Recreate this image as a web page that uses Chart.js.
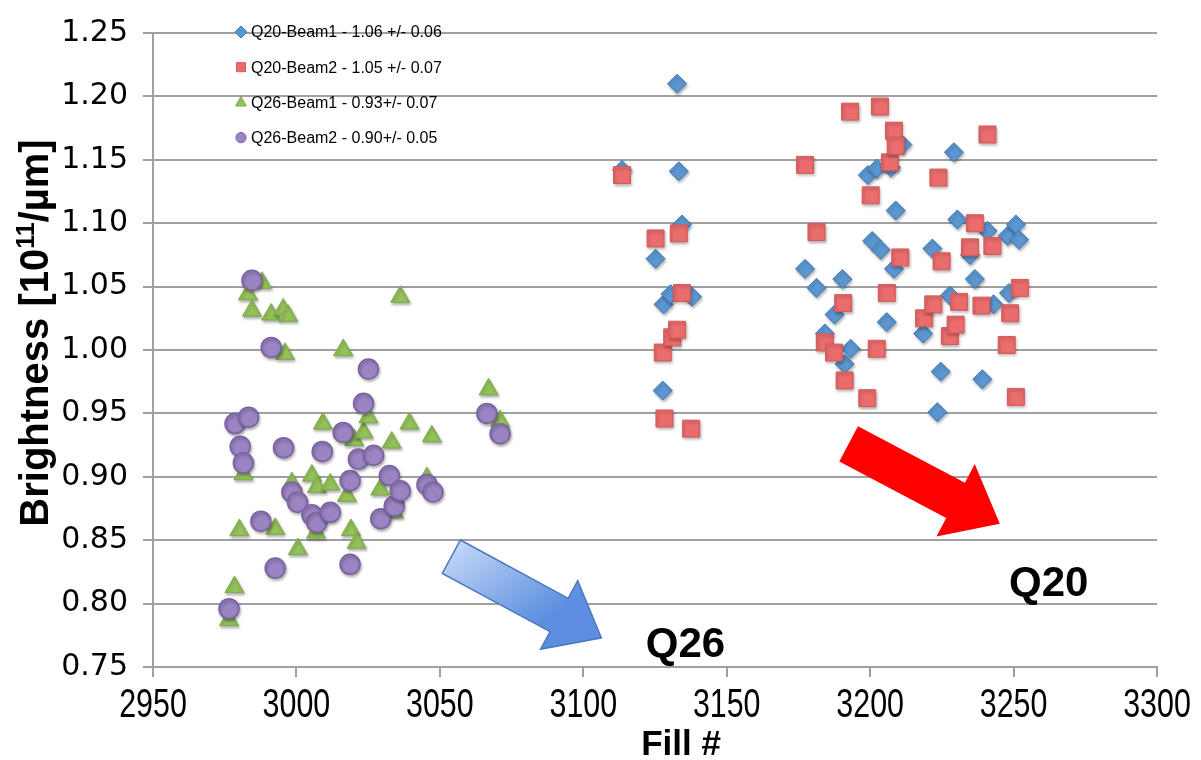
<!DOCTYPE html>
<html>
<head>
<meta charset="utf-8">
<script src="https://cdn.jsdelivr.net/npm/chart.js@4.4.1/dist/chart.umd.min.js"></script>
<style>
  html, body { margin: 0; padding: 0; background: #fff; }
  #wrap { width: 1201px; height: 760px; position: relative; }
</style>
</head>
<body>
<div id="wrap"><canvas id="brightnessChart" width="1201" height="760"></canvas></div>
<script>
// ---- data ----
const fillTicks = [2950, 3000, 3050, 3100, 3150, 3200, 3250, 3300];
const brightTicks = [0.75, 0.80, 0.85, 0.90, 0.95, 1.00, 1.05, 1.10, 1.15, 1.20, 1.25];

const seriesLabels = [
  'Q20-Beam1 - 1.06 +/- 0.06',
  'Q20-Beam2 - 1.05 +/- 0.07',
  'Q26-Beam1 - 0.93+/- 0.07',
  'Q26-Beam2 - 0.90+/- 0.05'
];

const q20b1Fill = [3113.5, 3125.2, 3127.7, 3128.0, 3130.4, 3132.7, 3133.3, 3134.4, 3137.9,
  3177.3, 3181.3, 3184.2, 3187.6, 3190.3, 3191.1, 3193.2, 3199.2, 3200.7, 3202.3, 3203.7,
  3205.8, 3207.2, 3208.3, 3208.9, 3211.2, 3218.5, 3221.7, 3223.4, 3224.6, 3227.8, 3229.2,
  3230.4, 3234.8, 3236.5, 3239.1, 3240.9, 3243.0, 3247.9, 3248.4, 3250.8, 3251.9];
const q20b1Bright = [1.142, 1.072, 0.968, 1.036, 1.044, 1.210, 1.141, 1.099, 1.042,
  1.064, 1.049, 1.013, 1.028, 1.056, 0.989, 1.001, 1.138, 1.086, 1.143, 1.079,
  1.022, 1.144, 1.064, 1.110, 1.162, 1.013, 1.080, 0.951, 0.983, 1.043, 1.156,
  1.103, 1.075, 1.056, 0.977, 1.094, 1.036, 1.090, 1.045, 1.099, 1.087];

const q20b2Fill = [3113.5, 3125.2, 3127.7, 3128.3, 3131.0, 3132.7, 3133.3, 3134.4, 3137.6,
  3177.3, 3181.3, 3184.2, 3187.4, 3190.6, 3191.1, 3193.0, 3199.0, 3200.2, 3202.3, 3203.4,
  3205.8, 3206.9, 3208.3, 3208.9, 3210.5, 3218.8, 3222.0, 3223.8, 3224.9, 3227.8, 3229.8,
  3231.0, 3234.8, 3236.5, 3238.8, 3240.9, 3242.6, 3247.6, 3248.8, 3250.8, 3252.2];
const q20b2Bright = [1.138, 1.088, 0.998, 0.946, 1.010, 1.016, 1.092, 1.045, 0.938,
  1.146, 1.093, 1.006, 0.998, 1.037, 0.976, 1.188, 0.962, 1.122, 1.001, 1.192,
  1.045, 1.148, 1.173, 1.161, 1.073, 1.025, 1.036, 1.136, 1.070, 1.011, 1.020,
  1.038, 1.081, 1.100, 1.035, 1.170, 1.082, 1.004, 1.029, 0.963, 1.049];

const q26b1Fill = [2976.5, 2978.4, 2980.1, 2981.5, 2983.1, 2984.5, 2988.0, 2991.2, 2992.6,
  2995.4, 2996.0, 2997.1, 2998.4, 3000.5, 3005.4, 3006.8, 3007.1, 3009.2, 3011.8, 3016.3,
  3017.6, 3019.0, 3021.0, 3020.1, 3023.4, 3025.1, 3029.2, 3033.2, 3034.0, 3036.2, 3039.4,
  3045.5, 3047.2, 3067.0, 3071.0];
const q26b1Bright = [0.787, 0.813, 0.858, 0.902, 1.044, 1.031, 1.053, 1.028, 0.859,
  1.032, 0.997, 1.027, 0.895, 0.843, 0.901, 0.856, 0.892, 0.942, 0.894, 1.000,
  0.885, 0.858, 0.848, 0.929, 0.935, 0.947, 0.890, 0.927, 0.872, 1.042, 0.942,
  0.899, 0.932, 0.969, 0.944];

const q26b2Fill = [2976.5, 2978.6, 2980.4, 2981.5, 2983.3, 2984.5, 2987.6, 2991.2, 2992.6,
  2995.5, 2998.4, 3000.4, 3005.4, 3007.1, 3009.0, 3011.8, 3016.3, 3018.7, 3018.7, 3021.6,
  3023.4, 3025.1, 3026.9, 3029.4, 3032.4, 3034.1, 3036.2, 3045.5, 3047.6, 3066.4, 3071.0];
const q26b2Bright = [0.796, 0.942, 0.924, 0.911, 0.947, 1.055, 0.865, 1.002, 0.828,
  0.923, 0.888, 0.880, 0.870, 0.864, 0.920, 0.872, 0.935, 0.897, 0.831, 0.914,
  0.958, 0.985, 0.917, 0.867, 0.901, 0.877, 0.889, 0.894, 0.888, 0.950, 0.934];

// ---- annotations (arrows and Q labels), in data units ----
const arrowQ26 = { from: [3054, 0.837], to: [3106.3, 0.773] };
const arrowQ20 = { from: [3192.5, 0.926], to: [3245.2, 0.863] };
const tagQ26 = { text: 'Q26', at: [3134.6, 0.767] };
const tagQ20 = { text: 'Q20', at: [3261.2, 0.815] };

const axisGray = '#a0a0a0';
const sansFont = '"Liberation Sans", Arial, sans-serif';

function toPoints(xs, ys) {
  return xs.map((x, i) => ({ x: x, y: ys[i] }));
}

function drawMarker(ctx, style, x, y, r, fill, stroke) {
  ctx.beginPath();
  if (style === 'rectRot') {
    ctx.moveTo(x, y - r); ctx.lineTo(x + r, y); ctx.lineTo(x, y + r); ctx.lineTo(x - r, y);
  } else if (style === 'rect') {
    ctx.rect(x - r * 0.75, y - r * 0.75, r * 1.5, r * 1.5);
  } else if (style === 'triangle') {
    ctx.moveTo(x, y - r); ctx.lineTo(x + r * 0.9, y + r * 0.6); ctx.lineTo(x - r * 0.9, y + r * 0.6);
  } else {
    ctx.arc(x, y, r * 0.85, 0, Math.PI * 2);
  }
  ctx.closePath();
  ctx.fillStyle = fill;
  ctx.fill();
  ctx.strokeStyle = stroke;
  ctx.lineWidth = 1;
  ctx.stroke();
}

function drawArrow(ctx, x0, y0, x1, y1, shaftW, headW, headL, fill, stroke) {
  const ang = Math.atan2(y1 - y0, x1 - x0);
  const len = Math.hypot(x1 - x0, y1 - y0);
  ctx.save();
  ctx.translate(x0, y0);
  ctx.rotate(ang);
  ctx.beginPath();
  ctx.moveTo(0, -shaftW / 2);
  ctx.lineTo(len - headL, -shaftW / 2);
  ctx.lineTo(len - headL, -headW / 2);
  ctx.lineTo(len, 0);
  ctx.lineTo(len - headL, headW / 2);
  ctx.lineTo(len - headL, shaftW / 2);
  ctx.lineTo(0, shaftW / 2);
  ctx.closePath();
  ctx.fillStyle = fill(ctx, len);
  ctx.fill();
  if (stroke) {
    ctx.strokeStyle = stroke;
    ctx.lineWidth = 1.5;
    ctx.stroke();
  }
  ctx.restore();
}

const markerShadow = {
  id: 'markerShadow',
  beforeDatasetsDraw(chart) {
    const c = chart.ctx;
    c.save();
    c.shadowColor = 'rgba(0,0,0,0.3)';
    c.shadowBlur = 3;
    c.shadowOffsetX = 1;
    c.shadowOffsetY = 2;
  },
  afterDatasetsDraw(chart) {
    chart.ctx.restore();
  }
};

const annotations = {
  id: 'annotations',
  afterDatasetsDraw(chart) {
    const ctx = chart.ctx;
    const xs = chart.scales.x, ys = chart.scales.y;
    const px = p => [xs.getPixelForValue(p[0]), ys.getPixelForValue(p[1])];

    let a = px(arrowQ26.from), b = px(arrowQ26.to);
    drawArrow(ctx, a[0], a[1], b[0], b[1], 38, 78, 48, (c, len) => {
      const g = c.createLinearGradient(0, -20, len * 0.6, 30);
      g.addColorStop(0, '#c4d7f6');
      g.addColorStop(1, '#5c8fe0');
      return g;
    }, '#4a76c2');

    a = px(arrowQ20.from); b = px(arrowQ20.to);
    drawArrow(ctx, a[0], a[1], b[0], b[1], 40, 82, 50, () => '#ff0000', null);

    ctx.save();
    ctx.fillStyle = '#000';
    ctx.font = 'bold 42px ' + sansFont;
    ctx.textAlign = 'center';
    ctx.textBaseline = 'middle';
    [tagQ26, tagQ20].forEach(t => {
      const p = px(t.at);
      ctx.fillText(t.text, p[0] + 3, p[1]);
    });
    ctx.restore();
  }
};

// condensed x tick labels and the two axis titles
const axisText = {
  id: 'axisText',
  afterDraw(chart) {
    const ctx = chart.ctx;
    const xs = chart.scales.x;
    const area = chart.chartArea;
    ctx.save();
    ctx.fillStyle = '#000';
    ctx.textAlign = 'center';
    ctx.textBaseline = 'middle';
    ctx.font = '40px ' + sansFont;
    xs.ticks.forEach(t => {
      const x = xs.getPixelForValue(t.value);
      ctx.save();
      ctx.translate(x, 706);
      ctx.scale(0.76, 1);
      ctx.fillText(String(t.value), 0, 0);
      ctx.restore();
    });

    ctx.font = 'bold 35px ' + sansFont;
    ctx.fillText('Fill #', (area.left + area.right) / 2 + 26, 745);

    // y title with a real superscript
    const main1 = 'Brightness [10', sup = '11', main2 = '/µm]';
    const bigFont = 'bold 40px ' + sansFont, smallFont = 'bold 25px ' + sansFont;
    ctx.font = bigFont;
    const w1 = ctx.measureText(main1).width, w3 = ctx.measureText(main2).width;
    ctx.font = smallFont;
    const w2 = ctx.measureText(sup).width;
    const total = w1 + w2 + w3;
    ctx.translate(34, (area.top + area.bottom) / 2 - 17);
    ctx.rotate(-Math.PI / 2);
    ctx.textAlign = 'left';
    ctx.textBaseline = 'alphabetic';
    let cx = -total / 2;
    ctx.font = bigFont;
    ctx.fillText(main1, cx, 14);
    cx += w1;
    ctx.font = smallFont;
    ctx.fillText(sup, cx, 0);
    cx += w2;
    ctx.font = bigFont;
    ctx.fillText(main2, cx, 14);
    ctx.restore();
  }
};

const insideLegend = {
  id: 'insideLegend',
  afterDraw(chart) {
    const ctx = chart.ctx;
    ctx.save();
    chart.data.datasets.forEach((ds, i) => {
      const y = 32 + i * 35.2;
      drawMarker(ctx, ds.pointStyle, 241, y, 6, ds.backgroundColor, ds.borderColor);
      ctx.fillStyle = '#000';
      ctx.font = '16px ' + sansFont;
      ctx.textAlign = 'left';
      ctx.textBaseline = 'middle';
      ctx.fillText(ds.label, 251, y + 1);
    });
    ctx.restore();
  }
};

new Chart(document.getElementById('brightnessChart').getContext('2d'), {
  type: 'scatter',
  data: {
    datasets: [
      {
        label: seriesLabels[0],
        data: toPoints(q20b1Fill, q20b1Bright),
        pointStyle: 'rectRot',
        pointRadius: 9.5,
        backgroundColor: '#5b96d0',
        borderColor: '#3f78b6',
        borderWidth: 1,
        order: 4
      },
      {
        label: seriesLabels[1],
        data: toPoints(q20b2Fill, q20b2Bright),
        pointStyle: 'rect',
        pointRadius: 12,
        backgroundColor: '#ea6c6c',
        borderColor: '#d85858',
        borderWidth: 1,
        order: 3
      },
      {
        label: seriesLabels[2],
        data: toPoints(q26b1Fill, q26b1Bright),
        pointStyle: 'triangle',
        pointRadius: 11,
        backgroundColor: '#93c15a',
        borderColor: '#7dab47',
        borderWidth: 1,
        order: 2
      },
      {
        label: seriesLabels[3],
        data: toPoints(q26b2Fill, q26b2Bright),
        pointStyle: 'circle',
        pointRadius: 10,
        backgroundColor: '#9b84c2',
        borderColor: '#7a61a3',
        borderWidth: 1.5,
        order: 1
      }
    ]
  },
  options: {
    responsive: false,
    animation: false,
    layout: { padding: { top: 22, right: 44, left: 0, bottom: 0 } },
    plugins: {
      legend: { display: false },
      tooltip: { enabled: false }
    },
    scales: {
      x: {
        type: 'linear',
        min: 2950,
        max: 3300,
        afterFit: scale => { scale.height = 93; },
        afterBuildTicks: scale => { scale.ticks = fillTicks.map(v => ({ value: v })); },
        grid: { drawOnChartArea: false, color: axisGray, lineWidth: 2, tickLength: 10 },
        border: { color: axisGray, width: 2 },
        ticks: { display: false }
      },
      y: {
        type: 'linear',
        min: 0.75,
        max: 1.25,
        afterFit: scale => { scale.width = 153; },
        afterBuildTicks: scale => { scale.ticks = brightTicks.map(v => ({ value: v })); },
        grid: { color: axisGray, lineWidth: 2, tickLength: 10 },
        border: { color: axisGray, width: 2 },
        ticks: {
          padding: 15,
          color: '#000',
          font: { family: '"DejaVu Sans", Verdana, sans-serif', size: 30 },
          callback: v => Number(v).toFixed(2)
        }
      }
    }
  },
  plugins: [markerShadow, annotations, axisText, insideLegend]
});
</script>
</body>
</html>
